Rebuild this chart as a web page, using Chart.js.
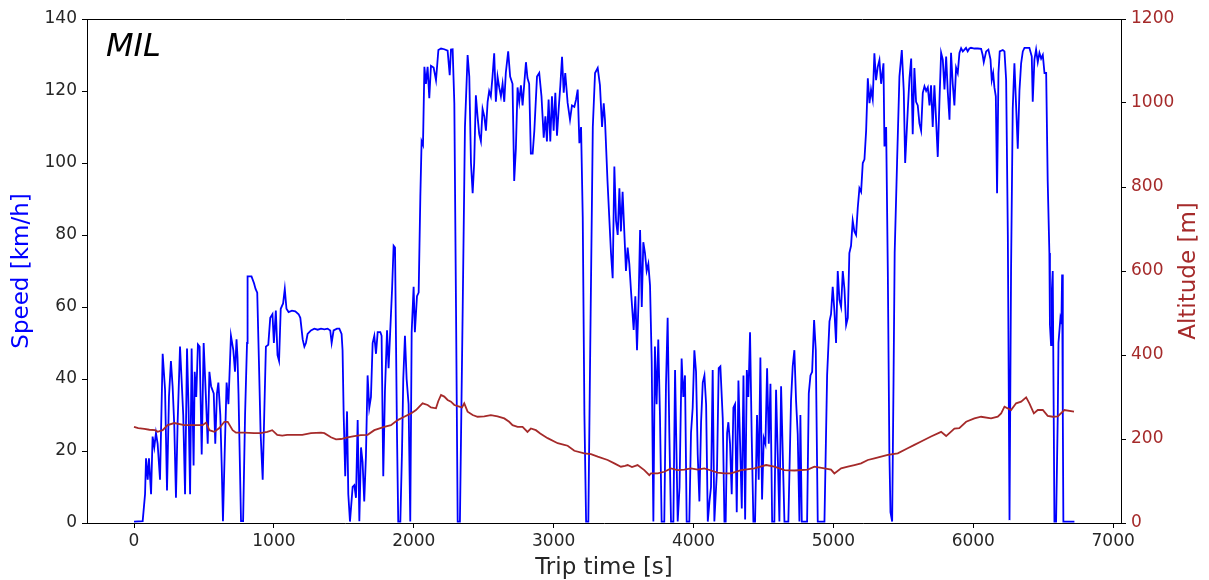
<!DOCTYPE html>
<html>
<head>
<meta charset="utf-8">
<script src="https://cdn.jsdelivr.net/npm/chart.js@4.4.1/dist/chart.umd.min.js"></script>
<style>
  html, body { margin: 0; padding: 0; background: #fff; }
  #wrap { width: 1209px; height: 580px; }
</style>
</head>
<body>
<div id="wrap"><canvas id="c" width="1209" height="580"></canvas></div>
<script>
// ---- data ----
const speedTime = [
  0, 62, 79, 86, 98, 107, 122, 133, 145, 157,
  169, 186, 205, 222, 236, 250, 264, 276, 288, 300,
  312, 329, 340, 352, 365, 379, 390, 401, 412, 426,
  434, 445, 457, 469, 484, 498, 515, 527, 539, 551,
  570, 581, 593, 603, 617, 627, 636, 648, 662, 675,
  693, 710, 722, 733, 740, 747, 765, 780, 794, 808,
  812, 840, 858, 869, 881, 893, 905, 920, 931, 943,
  960, 974, 990, 1000, 1014, 1026, 1037, 1049, 1066, 1078,
  1090, 1105, 1129, 1153, 1177, 1189, 1206, 1218, 1229, 1241,
  1265, 1289, 1313, 1337, 1361, 1384, 1403, 1413, 1427, 1451,
  1468, 1484, 1491, 1499, 1510, 1523, 1532, 1544, 1563, 1575,
  1587, 1599, 1611, 1623, 1634, 1646, 1658, 1670, 1682, 1694,
  1706, 1718, 1730, 1742, 1761, 1770, 1782, 1794, 1809, 1820,
  1832, 1845, 1856, 1866, 1880, 1889, 1904, 1916, 1925, 1937,
  1949, 1963, 1975, 1985, 1999, 2008, 2023, 2035, 2047, 2056,
  2066, 2076, 2087, 2099, 2111, 2123, 2142, 2159, 2176, 2195,
  2218, 2242, 2257, 2266, 2278, 2290, 2302, 2314, 2330, 2350,
  2366, 2385, 2397, 2409, 2421, 2432, 2444, 2456, 2468, 2480,
  2492, 2504, 2516, 2528, 2539, 2551, 2563, 2575, 2587, 2599,
  2611, 2623, 2635, 2647, 2658, 2675, 2689, 2706, 2718, 2730,
  2742, 2754, 2766, 2778, 2790, 2802, 2813, 2825, 2837, 2850,
  2862, 2881, 2897, 2913, 2929, 2941, 2952, 2964, 2976, 2988,
  3000, 3012, 3024, 3036, 3048, 3060, 3072, 3083, 3100, 3117,
  3131, 3148, 3160, 3172, 3184, 3196, 3208, 3220, 3232, 3248,
  3262, 3280, 3296, 3315, 3331, 3346, 3358, 3367, 3385, 3410,
  3422, 3434, 3446, 3458, 3470, 3481, 3493, 3505, 3517, 3529,
  3541, 3553, 3572, 3584, 3596, 3608, 3618, 3630, 3641, 3653,
  3665, 3677, 3689, 3701, 3713, 3724, 3736, 3748, 3760, 3772,
  3791, 3803, 3815, 3827, 3839, 3856, 3868, 3878, 3887, 3900,
  3915, 3927, 3939, 3951, 3970, 3982, 3994, 4006, 4018, 4030,
  4042, 4054, 4066, 4078, 4090, 4102, 4114, 4125, 4137, 4149,
  4168, 4180, 4192, 4209, 4221, 4230, 4240, 4249, 4261, 4273,
  4285, 4297, 4309, 4321, 4333, 4345, 4357, 4369, 4381, 4392,
  4404, 4416, 4428, 4440, 4454, 4466, 4478, 4490, 4502, 4514,
  4526, 4538, 4550, 4562, 4578, 4590, 4602, 4614, 4626, 4638,
  4650, 4678, 4697, 4709, 4721, 4733, 4745, 4757, 4764, 4774,
  4812, 4824, 4836, 4848, 4862, 4874, 4888, 4936, 4955, 4972,
  4983, 4995, 5007, 5019, 5031, 5043, 5055, 5067, 5079, 5091,
  5103, 5114, 5126, 5138, 5150, 5162, 5174, 5186, 5198, 5210,
  5222, 5234, 5246, 5258, 5269, 5281, 5293, 5305, 5317, 5329,
  5341, 5358, 5365, 5377, 5389, 5400, 5408, 5420, 5430, 5438,
  5455, 5472, 5489, 5503, 5513, 5532, 5544, 5556, 5567, 5579,
  5591, 5603, 5615, 5627, 5639, 5651, 5663, 5675, 5687, 5698,
  5710, 5722, 5734, 5746, 5758, 5770, 5782, 5794, 5806, 5818,
  5830, 5841, 5853, 5865, 5877, 5889, 5901, 5913, 5925, 5937,
  5948, 5960, 5972, 5984, 6008, 6032, 6056, 6067, 6075, 6092,
  6108, 6123, 6132, 6142, 6151, 6161, 6170, 6180, 6189, 6211,
  6223, 6235, 6247, 6259, 6270, 6282, 6294, 6306, 6318, 6330,
  6342, 6354, 6366, 6401, 6418, 6425, 6437, 6449, 6461, 6473,
  6485, 6497, 6509, 6521, 6532, 6544, 6548, 6556, 6562, 6568,
  6575, 6580, 6592, 6604, 6609, 6623, 6630, 6635, 6640, 6644,
  6663, 6723
];
const speedKmh = [
  0.4, 0.5, 8, 18, 12, 18, 8, 24, 21, 25,
  22, 12, 47, 37, 9, 35, 45, 38, 27, 7,
  28, 49, 40, 30, 8, 48.5, 32, 8, 48.5, 16,
  42, 35, 49.6, 49, 19, 50, 34, 22, 42, 38,
  36, 22, 36, 39, 30, 16, 0.5, 19, 39, 33,
  52, 48, 42, 51, 46, 36, 0.5, 0.5, 30, 50,
  68.5, 68.5, 66.6, 65, 64, 45, 25, 12, 30, 49,
  49.5, 57, 58, 50, 59, 46.6, 45, 59.5, 61, 65,
  59.5, 58.6, 59, 58.8, 58, 57, 51, 49, 50, 52.5,
  53.5, 54, 53.7, 54, 53.8, 54, 53.5, 50, 53.5, 54,
  54, 52.5, 48, 30, 13, 31, 8, 0.4, 10, 10.5,
  7, 28.6, 0.5, 21, 17, 6, 18.5, 41, 32, 35,
  50, 52, 47, 53, 53, 52, 13, 36.5, 53.5, 43,
  53.5, 65, 77, 76.5, 25, 0.4, 0.4, 20, 40, 52,
  40, 33, 0.4, 53, 65.6, 53, 63, 64, 90.6, 106,
  105, 126.7, 122, 126.7, 118, 127, 126.5, 123, 131.4, 131.8,
  131.6, 131.2, 124.4, 131.5, 131.6, 116.6, 60, 0.4, 0.4, 60,
  110, 130, 124, 100, 91.6, 100, 118.8, 113, 108, 106,
  115, 113, 109, 117, 120, 118.5, 124, 130.5, 117, 124,
  121, 118.5, 122, 117, 125, 131, 124, 122, 95, 104,
  121, 117, 121.6, 116, 122, 128, 123.6, 122, 102.6, 102.6,
  109, 124, 125, 118.6, 107, 113, 106, 117.6, 106, 118.5,
  109, 119.5, 107.6, 115, 121.6, 129.5, 119.5, 125, 116.7, 112,
  116, 115.6, 117.6, 120.4, 105.5, 110, 85, 30, 0.4, 0.4,
  50, 110, 125, 126.4, 121.6, 110, 116.6, 112, 95, 75,
  68, 99, 84, 80, 93, 81, 92, 81, 70, 76.5,
  72, 64.5, 53.6, 63, 48, 63, 81.4, 60, 78, 75,
  70, 72, 66, 45, 0.4, 49, 33, 51, 30, 0.4,
  0.4, 38, 57, 25, 0.4, 0.4, 42.5, 20, 0.4, 10,
  45.7, 35, 41, 0.4, 0.4, 25, 32, 48, 42, 19,
  6, 28, 39, 41, 33, 0.4, 6, 10, 42.5, 0.4,
  15, 43, 43.5, 29, 0.4, 0.4, 25, 28, 22, 8,
  32, 33, 3, 39.6, 22, 4, 41, 1, 42.5, 35,
  53, 24, 0.4, 0.4, 30, 12, 46, 6.5, 23.6, 22,
  43, 22, 38.7, 0.4, 0.4, 37, 19, 0.4, 38, 19,
  0.4, 0.4, 34, 43.5, 48, 34, 24.6, 0.4, 30, 0.4,
  0.4, 36, 41, 42, 56.4, 48, 0.4, 0.4, 41, 56,
  58, 65.6, 59, 50, 70, 62, 60, 70, 65, 55,
  57, 75, 77, 84, 81, 80, 87.5, 93, 92, 100,
  101, 109, 123.5, 116.6, 120.4, 117.7, 130.5, 123, 126.7, 128.6,
  122, 127.7, 104.6, 110, 70, 20, 3, 0.4, 40, 75,
  100, 124, 131.4, 120, 100, 115, 123.6, 129, 108, 126.4,
  117, 116, 111, 109, 119.5, 121.3, 120, 121, 116, 121.6,
  110, 121.6, 112, 101.7, 117, 130.6, 128.7, 120.4, 129.6, 119.5,
  112, 130.6, 122, 116, 126.5, 125, 130.6, 131.9, 131, 131.5,
  132, 131, 131.8, 132, 131.8, 131.8, 131.7, 130, 128, 131,
  131.5, 128.8, 123, 125, 121, 118.5, 91.6, 125, 131, 131.4,
  131, 123, 80, 0.8, 70, 115, 127.7, 116, 104, 120,
  127.7, 131, 132, 132, 129.6, 117, 128.7, 131.5, 128, 130.6,
  129, 130, 125, 125, 95, 75, 55, 49.4, 65, 70,
  30, 0.4, 0.4, 30, 50, 57, 56, 69, 30, 0.4,
  0.4, 0.4
];
const altTime = [
  0, 30, 74, 110, 151, 169, 205, 240, 288, 359,
  455, 491, 515, 539, 574, 610, 646, 670, 705, 729,
  789, 858, 905, 953, 988, 1024, 1060, 1095, 1143, 1203,
  1265, 1337, 1361, 1408, 1444, 1480, 1527, 1575, 1622, 1670,
  1718, 1789, 1837, 1885, 1932, 1980, 2016, 2040, 2063, 2099,
  2123, 2159, 2175, 2195, 2218, 2242, 2266, 2290, 2326, 2345,
  2361, 2385, 2421, 2456, 2504, 2551, 2599, 2647, 2682, 2706,
  2742, 2778, 2813, 2837, 2873, 2904, 2957, 3029, 3076, 3100,
  3148, 3219, 3267, 3315, 3386, 3434, 3481, 3510, 3529, 3560,
  3600, 3648, 3684, 3696, 3744, 3791, 3839, 3887, 3934, 3982,
  4030, 4077, 4125, 4172, 4220, 4268, 4340, 4435, 4519, 4578,
  4650, 4721, 4817, 4864, 4936, 4983, 5007, 5055, 5103, 5150,
  5198, 5246, 5293, 5341, 5389, 5460, 5531, 5579, 5627, 5698,
  5770, 5806, 5865, 5900, 5949, 6008, 6056, 6127, 6175, 6199,
  6223, 6270, 6306, 6342, 6378, 6401, 6433, 6461, 6497, 6532,
  6568, 6604, 6651, 6720
];
const altitudeM = [
  229, 226, 224, 222, 221, 217, 221, 233, 238, 233,
  233, 233, 239, 221, 217, 226, 241, 241, 221, 215,
  215, 214, 214, 217, 221, 210, 208, 210, 210, 210,
  214, 215, 214, 204, 199, 200, 204, 207, 209, 210,
  221, 229, 233, 245, 253, 261, 269, 277, 285, 281,
  275, 273, 290, 305, 301, 293, 289, 281, 277, 275,
  285, 265, 257, 253, 254, 257, 254, 249, 241, 233,
  229, 229, 217, 225, 221, 213, 202, 190, 186, 184,
  172, 166, 164, 158, 150, 142, 134, 136, 138, 133,
  138, 126, 114, 118, 118, 122, 130, 126, 127, 130,
  127, 130, 125, 120, 118, 118, 126, 130, 138, 134,
  126, 125, 127, 134, 130, 127, 118, 130, 134, 138,
  142, 150, 154, 158, 162, 166, 178, 186, 194, 206,
  217, 207, 225, 226, 241, 249, 253, 249, 253, 261,
  277, 269, 285, 289, 299, 285, 261, 269, 269, 255,
  253, 254, 269, 265
];
const xTickValues = [0, 1000, 2000, 3000, 4000, 5000, 6000, 7000];

// ---- chart ----
const FONT = 'DejaVu Sans';
const ALT_COLOR = '#a52a2a';
const overlay = {
  id: 'overlay',
  afterDraw(chart) {
    const { ctx, chartArea: a } = chart;
    ctx.save();
    ctx.strokeStyle = '#000';
    ctx.lineWidth = 1;
    ctx.beginPath();
    ctx.moveTo(a.left, a.top + 0.5);
    ctx.lineTo(a.right, a.top + 0.5);
    ctx.stroke();
    ctx.font = 'italic 32px "' + FONT + '"';
    ctx.fillStyle = '#000';
    ctx.textBaseline = 'alphabetic';
    ctx.textAlign = 'left';
    ctx.fillText('MIL', 106, 56);
    // right axis title, reading bottom-to-top like the reference
    ctx.translate(1189, (a.top + a.bottom) / 2);
    ctx.rotate(-Math.PI / 2);
    ctx.font = '23px "' + FONT + '"';
    ctx.fillStyle = ALT_COLOR;
    ctx.textAlign = 'center';
    ctx.textBaseline = 'middle';
    ctx.fillText('Altitude [m]', 0, 0);
    ctx.restore();
  }
};

const plainNum = (v) => String(v);

new Chart(document.getElementById('c'), {
  type: 'line',
  data: {
    datasets: [
      {
        label: 'Altitude',
        data: altTime.map((t, i) => ({ x: t, y: altitudeM[i] })),
        yAxisID: 'yAlt',
        borderColor: ALT_COLOR,
        borderWidth: 1.8,
        pointRadius: 0,
        tension: 0,
        order: 0
      },
      {
        label: 'Speed',
        data: speedTime.map((t, i) => ({ x: t, y: speedKmh[i] })),
        yAxisID: 'ySpeed',
        borderColor: '#0000ff',
        borderWidth: 1.8,
        pointRadius: 0,
        tension: 0,
        order: 1
      }
    ]
  },
  options: {
    responsive: false,
    animation: false,
    devicePixelRatio: 1,
    layout: { padding: { top: 19, left: 0, right: 0, bottom: 0 } },
    plugins: { legend: { display: false }, tooltip: { enabled: false } },
    scales: {
      x: {
        type: 'linear',
        min: -336,
        max: 7056,
        afterBuildTicks: (axis) => { axis.ticks = xTickValues.map(v => ({ value: v })); },
        afterFit: (s) => { s.height = 57; },
        grid: { drawOnChartArea: false, drawTicks: true, tickLength: 5, color: '#000' },
        border: { display: true, color: '#000', width: 1 },
        ticks: { color: '#262626', font: { family: FONT, size: 17 }, padding: 3, maxRotation: 0, callback: plainNum },
        title: { display: true, text: 'Trip time [s]', color: '#262626', font: { family: FONT, size: 23 }, padding: { top: 0, bottom: -2 } }
      },
      ySpeed: {
        type: 'linear',
        position: 'left',
        min: 0,
        max: 140,
        ticks: { stepSize: 20, color: '#262626', font: { family: FONT, size: 17 }, padding: 5, callback: plainNum },
        afterFit: (s) => { s.width = 87; },
        grid: { drawOnChartArea: false, drawTicks: true, tickLength: 5, color: '#000' },
        border: { display: true, color: '#000', width: 1 },
        title: { display: true, text: 'Speed [km/h]', color: '#0000ff', font: { family: FONT, size: 23 }, padding: { top: 8, bottom: 0 } }
      },
      yAlt: {
        type: 'linear',
        position: 'right',
        min: 0,
        max: 1200,
        ticks: { stepSize: 200, color: ALT_COLOR, font: { family: FONT, size: 17 }, padding: 5, callback: plainNum },
        afterFit: (s) => { s.width = 88; },
        grid: { drawOnChartArea: false, drawTicks: true, tickLength: 5, color: '#000' },
        border: { display: true, color: '#000', width: 1 }
      }
    }
  },
  plugins: [overlay]
});
</script>
</body>
</html>
